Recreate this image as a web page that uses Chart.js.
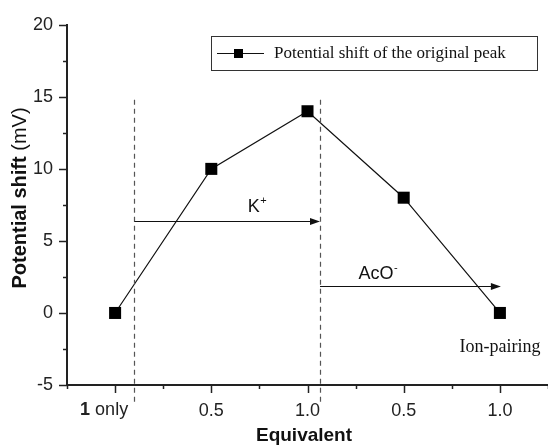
<!DOCTYPE html>
<html>
<head>
<meta charset="utf-8">
<script src="https://cdn.jsdelivr.net/npm/chart.js@4.4.0/dist/chart.umd.min.js"></script>
<style>
  html, body { margin: 0; padding: 0; background: #fff; }
</style>
</head>
<body>
<canvas id="chartCanvas" width="548" height="446"></canvas>
<script>
// data
const xValues = [0, 1, 2, 3, 4];
const shiftValues = [0, 10, 14, 8, 0];
const xTickLabels = ['1 only', '0.5', '1.0', '0.5', '1.0'];
const seriesLabel = 'Potential shift of the original peak';

// dashed dividers (x in axis units) and their vertical extent
const dividerX = [0.2, 2.13];
const dividerTop = 14.8;
const dividerBottom = -6.4;

// arrows: from, to, height, label, superscript
const arrowFrom = [0.2, 2.13];
const arrowTo = [2.13, 4.01];
const arrowY = [6.35, 1.9];
const arrowText = ['K', 'AcO'];
const arrowSup = ['+', '-'];
const arrowTextX = [1.38, 2.53];
const arrowTextY = [7.0, 2.35];

const noteText = 'Ion-pairing';
const noteX = 4.0;
const noteY = -2.7;

const axisColor = '#222';
const sans = '"Liberation Sans", Arial, sans-serif';
const serif = '"Liberation Serif", "Times New Roman", serif';

function line(ctx, x1, y1, x2, y2) {
  ctx.beginPath();
  ctx.moveTo(x1, y1);
  ctx.lineTo(x2, y2);
  ctx.stroke();
}

const overlay = {
  id: 'overlay',
  afterDraw(chart) {
    const { ctx, chartArea } = chart;
    const x = chart.scales.x;
    const y = chart.scales.y;
    ctx.save();

    // tick marks, major and minor, pointing outward
    ctx.strokeStyle = axisColor;
    ctx.lineWidth = 1.5;
    x.ticks.forEach(t => {
      const px = Math.round(x.getPixelForValue(t.value)) + 0.5;
      const len = Number.isInteger(t.value) ? 8 : 4;
      line(ctx, px, chartArea.bottom, px, chartArea.bottom + len);
    });
    y.ticks.forEach(t => {
      const py = Math.round(y.getPixelForValue(t.value)) + 0.5;
      const len = t.value % 5 === 0 ? 8 : 4;
      line(ctx, chartArea.left - len, py, chartArea.left, py);
    });

    // "1 only" tick label with bold 1
    const base = 415;
    let lx = x.getPixelForValue(0) - 35;
    ctx.fillStyle = axisColor;
    ctx.textBaseline = 'alphabetic';
    ctx.textAlign = 'left';
    ctx.font = 'bold 18px ' + sans;
    ctx.fillText('1', lx, base);
    lx += ctx.measureText('1').width;
    ctx.font = '18px ' + sans;
    ctx.fillText(' only', lx, base);

    // dashed dividers
    ctx.strokeStyle = '#555';
    ctx.lineWidth = 1.2;
    ctx.setLineDash([5, 4]);
    dividerX.forEach(v => {
      const px = Math.round(x.getPixelForValue(v)) + 0.5;
      line(ctx, px, y.getPixelForValue(dividerTop), px, y.getPixelForValue(dividerBottom));
    });
    ctx.setLineDash([]);

    // arrows
    ctx.strokeStyle = '#111';
    ctx.fillStyle = '#111';
    ctx.lineWidth = 1.2;
    arrowFrom.forEach((v, i) => {
      const x1 = x.getPixelForValue(v);
      const x2 = x.getPixelForValue(arrowTo[i]);
      const py = Math.round(y.getPixelForValue(arrowY[i])) + 0.5;
      line(ctx, x1, py, x2 - 6, py);
      ctx.beginPath();
      ctx.moveTo(x2, py);
      ctx.lineTo(x2 - 10, py - 3.5);
      ctx.lineTo(x2 - 10, py + 3.5);
      ctx.closePath();
      ctx.fill();

      const tx = x.getPixelForValue(arrowTextX[i]);
      const ty = y.getPixelForValue(arrowTextY[i]);
      ctx.font = '18px ' + sans;
      ctx.textAlign = 'left';
      ctx.fillText(arrowText[i], tx, ty);
      const w = ctx.measureText(arrowText[i]).width;
      ctx.font = '11px ' + sans;
      ctx.fillText(arrowSup[i], tx + w + 0.5, ty - 8);
    });

    // note
    ctx.font = '18px ' + serif;
    ctx.textAlign = 'center';
    ctx.fillStyle = '#111';
    ctx.fillText(noteText, x.getPixelForValue(noteX), y.getPixelForValue(noteY));

    // axis titles
    ctx.fillStyle = '#111';
    ctx.textAlign = 'left';
    ctx.textBaseline = 'middle';
    ctx.save();
    ctx.translate(20, 198);
    ctx.rotate(-Math.PI / 2);
    ctx.font = 'bold 20px ' + sans;
    const w1 = ctx.measureText('Potential shift ').width;
    ctx.font = '20px ' + sans;
    const w2 = ctx.measureText('(mV)').width;
    const sx = -(w1 + w2) / 2;
    ctx.font = 'bold 20px ' + sans;
    ctx.fillText('Potential shift ', sx, 0);
    ctx.font = '20px ' + sans;
    ctx.fillText('(mV)', sx + w1, 0);
    ctx.restore();

    ctx.font = 'bold 19px ' + sans;
    ctx.textAlign = 'center';
    ctx.fillText('Equivalent', 304, 436);

    // legend box
    ctx.strokeStyle = '#333';
    ctx.lineWidth = 1;
    ctx.strokeRect(211.5, 36.5, 326, 34);
    ctx.strokeStyle = '#111';
    ctx.lineWidth = 1.2;
    line(ctx, 217, 53.5, 264, 53.5);
    ctx.fillStyle = '#000';
    ctx.fillRect(234, 49, 9, 9);
    ctx.font = '17px ' + serif;
    ctx.textAlign = 'left';
    ctx.textBaseline = 'middle';
    ctx.fillStyle = '#111';
    ctx.fillText(chart.data.datasets[0].label, 274, 54);

    ctx.restore();
  }
};

new Chart(document.getElementById('chartCanvas').getContext('2d'), {
  type: 'line',
  data: {
    datasets: [{
      label: seriesLabel,
      data: xValues.map((v, i) => ({ x: v, y: shiftValues[i] })),
      borderColor: '#111',
      borderWidth: 1.2,
      backgroundColor: '#000',
      pointStyle: 'rect',
      pointRadius: 8.5,
      pointBackgroundColor: '#000',
      pointBorderWidth: 0,
      tension: 0,
      clip: false
    }]
  },
  options: {
    responsive: false,
    animation: false,
    layout: { autoPadding: false, padding: { top: 22, right: 0, left: 0, bottom: 0 } },
    plugins: {
      legend: { display: false },
      tooltip: { enabled: false }
    },
    scales: {
      x: {
        type: 'linear',
        min: -0.5,
        max: 4.5,
        grid: { display: false, drawTicks: false },
        border: { display: true, color: axisColor, width: 2 },
        afterFit: s => { s.height = 61; s.paddingLeft = 0; s.paddingRight = 0; },
        ticks: {
          stepSize: 0.5,
          autoSkip: false,
          maxRotation: 0,
          padding: 15,
          color: axisColor,
          font: { family: sans, size: 18 },
          callback: v => (Number.isInteger(v) && v > 0 && v < xTickLabels.length) ? xTickLabels[v] : ''
        }
      },
      y: {
        min: -5,
        max: 20,
        grid: { display: false, drawTicks: false },
        border: { display: true, color: axisColor, width: 2 },
        afterFit: s => { s.width = 67; },
        ticks: {
          stepSize: 2.5,
          padding: 14,
          color: axisColor,
          font: { family: sans, size: 18 },
          callback: v => v % 5 === 0 ? String(v) : ''
        }
      }
    }
  },
  plugins: [overlay]
});
</script>
</body>
</html>
